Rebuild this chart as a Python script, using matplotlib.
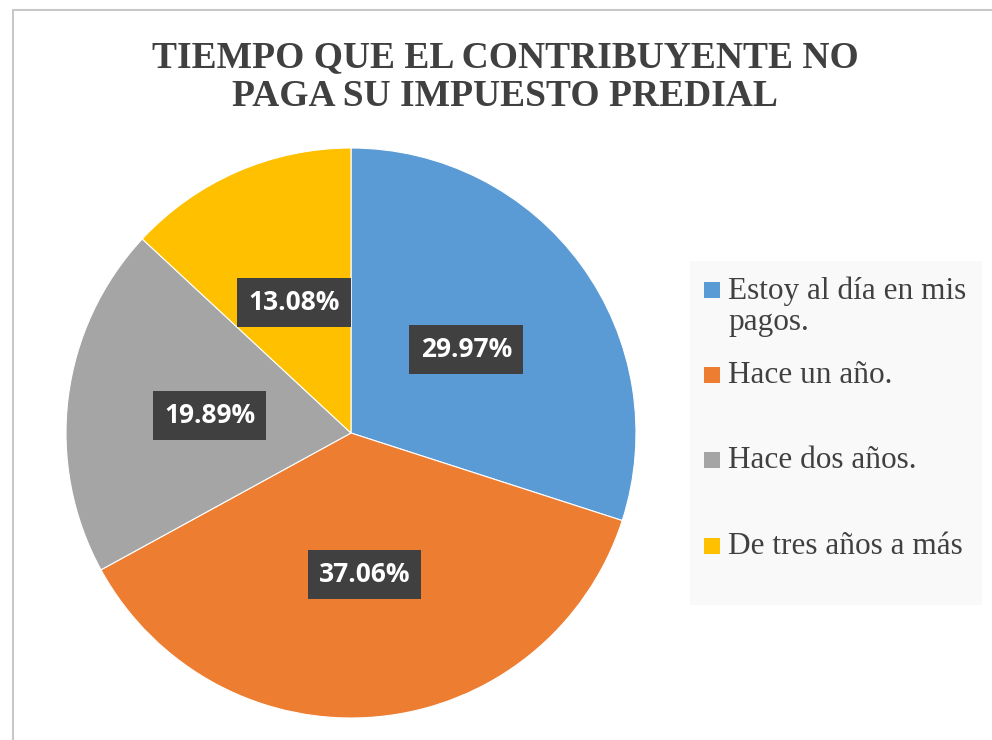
import matplotlib.pyplot as plt
from matplotlib.patches import Rectangle

# datos del grafico
categorias = ["Estoy al día en mis\npagos.", "Hace un año.", "Hace dos años.", "De tres años a más"]
porcentajes = [29.97, 37.06, 19.89, 13.08]
colores = ["#5b9bd5", "#ed7d31", "#a5a5a5", "#ffc000"]
titulo = "TIEMPO QUE EL CONTRIBUYENTE NO\nPAGA SU IMPUESTO PREDIAL"

W, H = 992, 740
fig = plt.figure(figsize=(W / 100, H / 100), dpi=100)
fig.patch.set_facecolor("white")

# borde del area del grafico
fig.add_artist(Rectangle((13 / W, -0.01), 1.1, 1 - 10 / H + 0.01, transform=fig.transFigure,
                         fill=False, edgecolor="#c8c8c8", linewidth=1.5))

# pastel: centro (351, 433), radio 285 px
cx, cy, r = 351, 433, 285
ax = fig.add_axes([(cx - r) / W, (H - cy - r) / H, 2 * r / W, 2 * r / H])
wedges, texts, autotexts = ax.pie(
    porcentajes, colors=colores, startangle=90, counterclock=False,
    autopct="%1.2f%%", pctdistance=0.5, radius=1.0,
    wedgeprops=dict(edgecolor="white", linewidth=0.8),
    textprops=dict(color="white", fontsize=19, fontweight="bold", family="Open Sans"))
for t in autotexts:
    t.set_bbox(dict(boxstyle="square,pad=0.42", facecolor="#404040", edgecolor="none"))
ax.set_xlim(-1, 1)
ax.set_ylim(-1, 1)
ax.set_aspect("equal")
ax.axis("off")

# titulo
fig.text(505 / W, 1 - 77 / H, titulo, ha="center", va="center", fontsize=27,
         fontweight="bold", family="Liberation Serif", color="#404040", linespacing=1.12)

# leyenda (caja gris claro)
fig.add_artist(Rectangle((690 / W, 1 - 605 / H), 292 / W, 344 / H, transform=fig.transFigure,
                         facecolor="#f9f9f9", edgecolor="none"))
ys = [290, 375, 460, 546]
for lab, col, y in zip(categorias, colores, ys):
    fig.add_artist(Rectangle((704 / W, 1 - (y + 8) / H), 16 / W, 16 / H,
                             transform=fig.transFigure, facecolor=col, edgecolor="none"))
    fig.text(728 / W, 1 - (y - 14) / H, lab, ha="left", va="top", fontsize=22.5,
             family="Liberation Serif", color="#404040", linespacing=1.1)

fig.savefig("out.png", dpi=100)
